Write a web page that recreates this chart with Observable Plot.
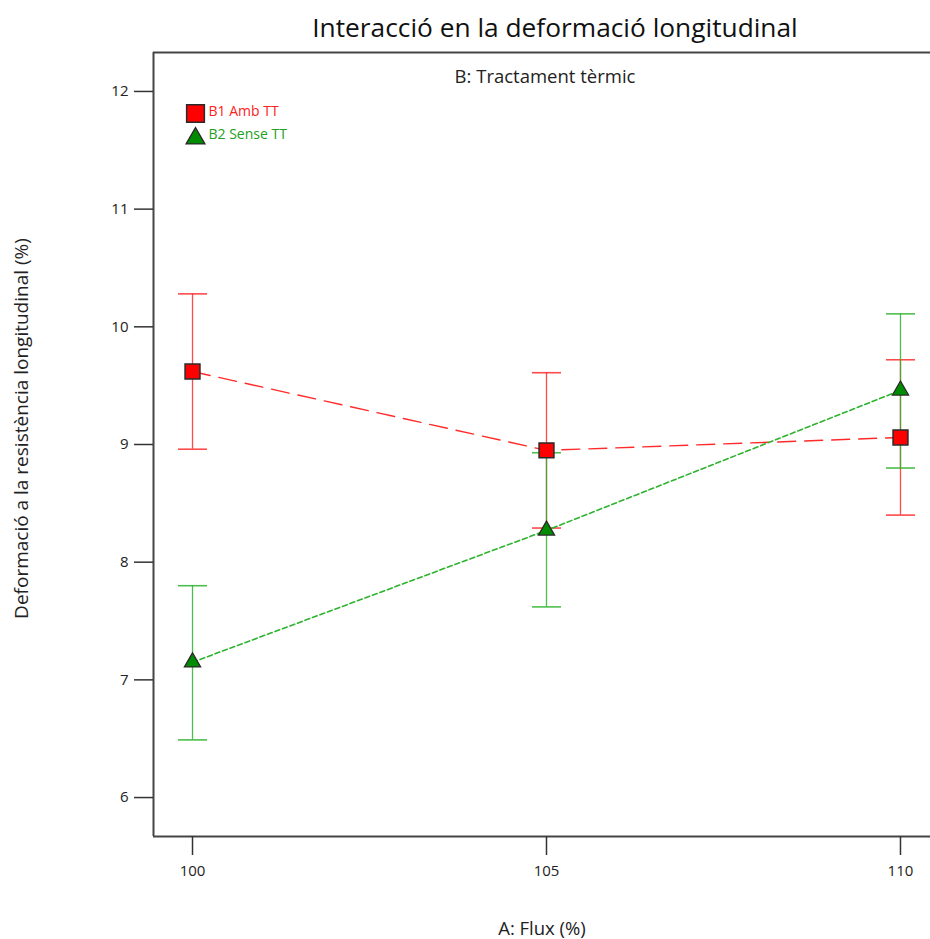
<!DOCTYPE html>
<html>
<head>
<meta charset="utf-8">
<script src="https://cdn.jsdelivr.net/npm/d3@7"></script>
<script src="https://cdn.jsdelivr.net/npm/@observablehq/plot@0.6"></script>
<style>
  html, body { margin: 0; padding: 0; background: #fff; overflow: hidden; }
  #wrap { position: relative; width: 930px; }
  #title { position: relative; height: 44px; width: 930px; }
  #title span { position: absolute; left: 555px; top: 14px; transform: translateX(-50%);
    font-family: "Open Sans", sans-serif; font-size: 26.3px; line-height: 1; white-space: nowrap; color: #111; }
  svg { display: block; }
</style>
</head>
<body>
<div id="wrap">
  <div id="title"><span>Interacció en la deformació longitudinal</span></div>
  <div id="chart"></div>
</div>
<script>
const flux = [100, 105, 110];
const b1Mean = [9.62, 8.95, 9.06];
const b1Low = [8.96, 8.29, 8.40];
const b1High = [10.28, 9.61, 9.72];
const b2Mean = [7.15, 8.27, 9.46];
const b2Low = [6.49, 7.62, 8.80];
const b2High = [7.80, 8.93, 10.11];
const seriesNames = ["B1 Amb TT", "B2 Sense TT"];
const yTicks = [6, 7, 8, 9, 10, 11, 12];
const xTicks = [100, 105, 110];
const xLabel = "A: Flux (%)";
const yLabel = "Deformació a la resistència longitudinal (%)";
const factorLabel = "B: Tractament tèrmic";

const xDomain = [99.449, 110.424];
const yDomain = [5.669, 12.331];

const b1 = flux.map((f, i) => ({x: f, m: b1Mean[i], lo: b1Low[i], hi: b1High[i]}));
const b2 = flux.map((f, i) => ({x: f, m: b2Mean[i], lo: b2Low[i], hi: b2High[i]}));

const red = "#ff2a2a";
const green = "#2db32d";
const font = "Open Sans";

const capSymbol = {draw(ctx) { ctx.moveTo(-14.5, 0); ctx.lineTo(14.5, 0); }};

function errorMarks(data, color) {
  return [
    Plot.ruleX(data, {x: "x", y1: "lo", y2: "hi", stroke: color, strokeWidth: 1.3, strokeOpacity: 0.85}),
    Plot.dot(data, {x: "x", y: "lo", symbol: capSymbol, r: 5, stroke: color, strokeWidth: 1.6, strokeOpacity: 0.85, fill: "none"}),
    Plot.dot(data, {x: "x", y: "hi", symbol: capSymbol, r: 5, stroke: color, strokeWidth: 1.6, strokeOpacity: 0.85, fill: "none"})
  ];
}

const chart = Plot.plot({
  width: 930,
  height: 895,
  marginTop: 8,
  marginLeft: 153,
  marginRight: 0,
  marginBottom: 103,
  style: {fontFamily: font, background: "white"},
  x: {domain: xDomain},
  y: {domain: yDomain},
  marks: [
    Plot.ruleX([xDomain[0]], {stroke: "#454545", strokeWidth: 2}),
    Plot.ruleY(yDomain, {stroke: "#454545", strokeWidth: 2}),
    Plot.axisY(yTicks, {tickSize: 19, tickPadding: 6, fontSize: 15, stroke: "#333", strokeWidth: 1.5, fill: "#222", label: null, tickFormat: d => String(d)}),
    Plot.axisX(xTicks, {tickSize: 19, tickPadding: 10, fontSize: 15, stroke: "#333", strokeWidth: 1.5, fill: "#222", label: null, tickFormat: d => String(d)}),
    Plot.text([xLabel], {frameAnchor: "bottom", dy: 98, fontSize: 18.5, fill: "#222", fontFamily: font}),
    Plot.text([yLabel], {frameAnchor: "left", textAnchor: "middle", lineAnchor: "middle", dx: -132, dy: -16, rotate: -90, fontSize: 19, fill: "#222", fontFamily: font}),
    Plot.text([factorLabel], {frameAnchor: "top", dx: 3, dy: 17, fontSize: 18.5, fill: "#222", fontFamily: font}),
    ...errorMarks(b1, red),
    ...errorMarks(b2, green),
    Plot.line(b1, {x: "x", y: "m", stroke: red, strokeWidth: 1.4, strokeDasharray: "18,9"}),
    Plot.line(b2, {x: "x", y: "m", stroke: green, strokeWidth: 1.6, strokeDasharray: "5,3"}),
    Plot.dot(b1, {x: "x", y: "m", symbol: "square", r: 8.4, fill: "#ff0000", stroke: "#2a2a2a", strokeWidth: 1.5}),
    Plot.dot(b2, {x: "x", y: "m", symbol: "triangle", r: 6, fill: "#008c00", stroke: "#2a2a2a", strokeWidth: 1.3}),
    // legend
    Plot.dot([seriesNames[0]], {frameAnchor: "top-left", dx: 42, dy: 61, symbol: "square", r: 10, fill: "#ff0000", stroke: "#2a2a2a", strokeWidth: 1.5}),
    Plot.dot([seriesNames[1]], {frameAnchor: "top-left", dx: 42, dy: 86, symbol: "triangle", r: 7, fill: "#008c00", stroke: "#2a2a2a", strokeWidth: 1.3}),
    Plot.text([seriesNames[0]], {frameAnchor: "top-left", dx: 55, dy: 54, textAnchor: "start", fontSize: 14, fill: "#ff2020", fontFamily: font}),
    Plot.text([seriesNames[1]], {frameAnchor: "top-left", dx: 55, dy: 77, textAnchor: "start", fontSize: 14, fill: "#22a022", fontFamily: font})
  ]
});
document.getElementById("chart").appendChild(chart);
</script>
</body>
</html>
